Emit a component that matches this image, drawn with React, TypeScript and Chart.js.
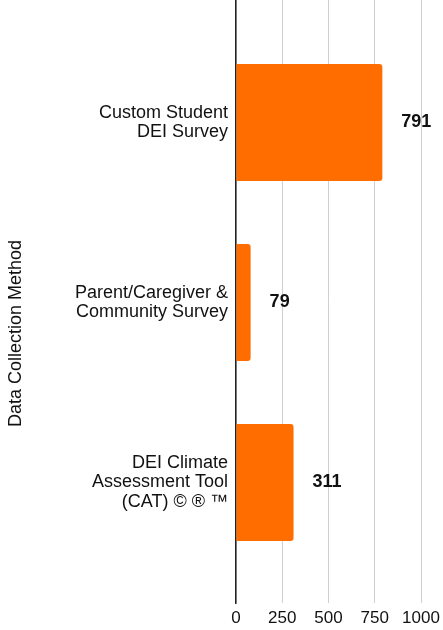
import React, { useEffect, useRef } from "react";
import { Chart, registerables } from "chart.js";

Chart.register(...registerables);

const categories: string[][] = [
  ["Custom Student", "DEI Survey"],
  ["Parent/Caregiver &", "Community Survey"],
  ["DEI Climate", "Assessment Tool", "(CAT) © ® ™"],
];
const counts: number[] = [791, 79, 311];
const xTicks: number[] = [0, 250, 500, 750, 1000];
const axisTitle = "Data Collection Method";

const FONT = '"Liberation Sans", Arial, Helvetica, sans-serif';
const BAR_COLOR = "#FF6D01";

export default function App() {
  const ref = useRef<HTMLCanvasElement | null>(null);

  useEffect(() => {
    if (!ref.current) return;

    const valueLabels = {
      id: "valueLabels",
      afterDatasetsDraw(chart: any) {
        const ctx = chart.ctx;
        const meta = chart.getDatasetMeta(0);
        ctx.save();
        ctx.font = `bold 18px ${FONT}`;
        ctx.fillStyle = "#111";
        ctx.textAlign = "left";
        ctx.textBaseline = "middle";
        meta.data.forEach((el: any, i: number) => {
          ctx.fillText(String(counts[i]), el.x + 19, el.y);
        });
        ctx.restore();
      },
    };

    const yTitle = {
      id: "yTitle",
      afterDraw(chart: any) {
        const ctx = chart.ctx;
        const area = chart.chartArea;
        ctx.save();
        ctx.font = `18px ${FONT}`;
        ctx.fillStyle = "#111";
        ctx.textAlign = "center";
        ctx.textBaseline = "middle";
        ctx.translate(16, (area.top + area.bottom) / 2 + 32);
        ctx.rotate(-Math.PI / 2);
        ctx.fillText(axisTitle, 0, 0);
        ctx.restore();
      },
    };

    const chart = new Chart(ref.current, {
      type: "bar",
      data: {
        datasets: [
          {
            data: counts.map((v, i) => ({ x: v, y: i })),
            backgroundColor: BAR_COLOR,
            borderRadius: 3,
            borderSkipped: "start",
            categoryPercentage: 1,
            barPercentage: 0.65,
          },
        ],
      },
      options: {
        indexAxis: "y",
        animation: false,
        responsive: true,
        maintainAspectRatio: false,
        layout: { padding: { top: 0, right: 22, bottom: 0, left: 0 } },
        plugins: {
          legend: { display: false },
          tooltip: { enabled: false },
        },
        scales: {
          x: {
            type: "linear",
            min: 0,
            max: 1000,
            offset: false,
            afterBuildTicks: (axis: any) => {
              axis.ticks = xTicks.map((v) => ({ value: v }));
            },
            afterFit: (axis: any) => {
              axis.height = 27;
              axis.paddingLeft = 0;
              axis.paddingRight = 0;
            },
            grid: { color: "#cfcfcf", lineWidth: 1, drawTicks: false },
            border: { display: false },
            ticks: {
              padding: 5,
              color: "#111",
              font: { family: FONT, size: 17 },
              maxRotation: 0,
              callback: (v: any) => String(v),
            },
          },
          y: {
            type: "linear",
            reverse: true,
            offset: false,
            min: -0.68,
            max: 2.67,
            afterBuildTicks: (axis: any) => {
              axis.ticks = categories.map((_, i) => ({ value: i }));
            },
            afterFit: (axis: any) => {
              axis.width = 236;
              axis.paddingTop = 0;
              axis.paddingBottom = 0;
            },
            grid: { display: false, drawTicks: false },
            border: { display: true, color: "#222", width: 1.5 },
            ticks: {
              padding: 8,
              color: "#111",
              font: { family: FONT, size: 18, lineHeight: 1.07 },
              callback: (v: any) => categories[v as number] ?? "",
            },
          },
        },
      },
      plugins: [valueLabels, yTitle],
    } as any);

    return () => chart.destroy();
  }, []);

  return (
    <div style={{ position: "fixed", left: 0, top: 0, width: 443, height: 630, background: "#fff" }}>
      <canvas ref={ref} />
    </div>
  );
}
